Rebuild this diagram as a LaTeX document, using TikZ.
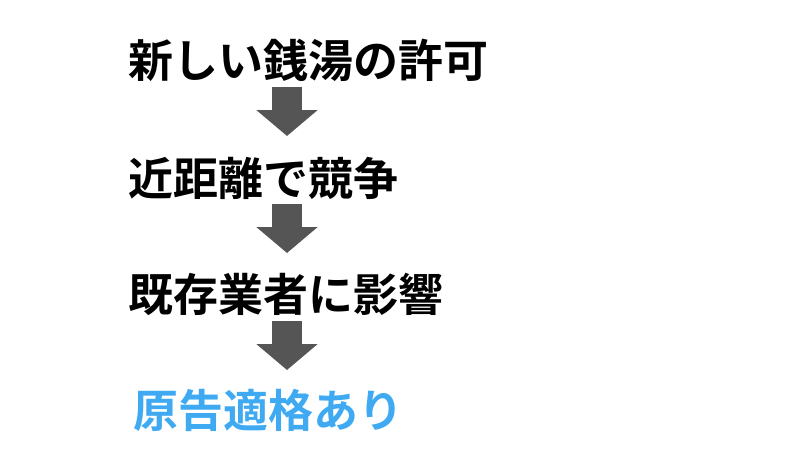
\documentclass[tikz,border=0pt]{standalone}
\usepackage{fontspec}
\newfontfamily\cjk{Noto Sans CJK JP Bold}
\usetikzlibrary{arrows.meta}
\definecolor{stepgray}{HTML}{555555}
\definecolor{resultblue}{HTML}{3FAAF2}
\tikzset{
  stage/.style={anchor=west, inner sep=0pt, font=\cjk\fontsize{45}{45}\selectfont},
  flow/.style={stepgray, line width=30pt, -{Triangle[width=60pt,length=26pt]}}
}
\begin{document}
\begin{tikzpicture}[x=1pt,y=-1pt]
   \useasboundingbox (0,0) rectangle (800,450);
   \node[stage] (permit) at (128,60) {新しい銭湯の許可};
   \node[stage] (compete) at (128,178) {近距離で競争};
   \node[stage] (impact) at (128,294) {既存業者に影響};
   \node[stage, text=resultblue] (standing) at (133,410) {原告適格あり};

   \coordinate (a1) at (287,87);  \coordinate (b1) at (287,136);
   \coordinate (a2) at (287,204); \coordinate (b2) at (287,253);
   \coordinate (a3) at (287,321); \coordinate (b3) at (287,370);
   \draw[flow] (a1) -- (b1);
   \draw[flow] (a2) -- (b2);
   \draw[flow] (a3) -- (b3);
\end{tikzpicture}
\end{document}
